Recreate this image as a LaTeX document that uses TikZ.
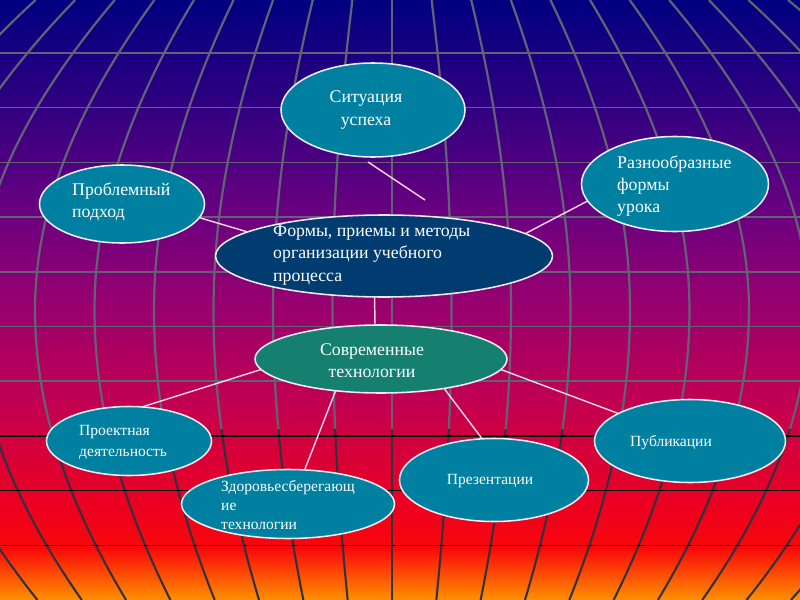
\documentclass[tikz,border=0pt]{standalone}
\usepackage{fontspec}
\setmainfont{Liberation Serif}
\usetikzlibrary{shapes.geometric}
\definecolor{g0}{RGB}{0,0,128}
\definecolor{g1}{RGB}{55,0,128}
\definecolor{g2}{RGB}{105,0,128}
\definecolor{g3}{RGB}{150,0,112}
\definecolor{g4}{RGB}{195,0,80}
\definecolor{g5}{RGB}{238,0,30}
\definecolor{g6}{RGB}{250,8,10}
\definecolor{g7}{RGB}{255,145,0}
\definecolor{tealc}{RGB}{0,128,160}
\definecolor{navyc}{RGB}{0,60,112}
\definecolor{greenc}{RGB}{22,128,112}
\definecolor{rimc}{RGB}{235,235,240}
\definecolor{linkc}{RGB}{248,212,228}
\definecolor{gridc}{RGB}{98,98,118}
\definecolor{gridd}{RGB}{50,50,60}
\tikzset{
  bub/.style={ellipse, draw=rimc, line width=1.4pt, inner sep=0pt, outer sep=0pt, fill=tealc},
  big/.style={text=white, font=\fontsize{16}{20}\selectfont, align=left, inner sep=0pt},
  small/.style={text=white, font=\fontsize{14}{18}\selectfont, align=left, inner sep=0pt},
  link/.style={draw=linkc, line width=1.3pt},
  vgrid/.style={draw=gridc, line width=2pt},
  vgridd/.style={draw=gridd, line width=1.9pt},
  hgrid/.style={draw=gridc, line width=1.3pt},
  hgridd/.style={draw=black, line width=1.3pt}
}
\begin{document}
\begin{tikzpicture}[x=0.9pt,y=-0.9pt]
\useasboundingbox (0,0) rectangle (800,600);
% background gradient
\shade[top color=g0,bottom color=g1] (0,0) rectangle (800,120.5);
\shade[top color=g1,bottom color=g2] (0,120) rectangle (800,210.5);
\shade[top color=g2,bottom color=g3] (0,210) rectangle (800,300.5);
\shade[top color=g3,bottom color=g4] (0,300) rectangle (800,405.5);
\shade[top color=g4,bottom color=g5] (0,405) rectangle (800,510.5);
\shade[top color=g5,bottom color=g6] (0,510) rectangle (800,548.5);
\shade[top color=g6,bottom color=g7] (0,548) rectangle (800,600);
% grid
\begin{scope}
\clip (0,0) rectangle (800,600);
\foreach \k in {-10,...,10}{
  \draw[vgrid] plot[domain=0:430, samples=50, variable=\t] ({392+\k*59.5*cos((\t-310)*(0.15569-0.01139*(\t>310)))}, \t);
  \draw[vgridd] plot[domain=429:600, samples=25, variable=\t] ({392+\k*59.5*cos((\t-310)*0.1443)}, \t);
}
\foreach \j in {0,...,6} \draw[hgrid] (0,{53+54.7*\j}) -- (800,{53+54.7*\j});
\foreach \j in {7,8,9} \draw[hgridd] (0,{53+54.7*\j}) -- (800,{53+54.7*\j});
\end{scope}
% ellipses
\node[bub, minimum width={184*0.9pt}, minimum height={94*0.9pt}] (sit) at (373,110) {};
\node[bub, minimum width={165*0.9pt}, minimum height={78*0.9pt}] (prob) at (122,204) {};
\node[bub, fill=navyc, minimum width={337*0.9pt}, minimum height={82*0.9pt}] (cent) at (384,256) {};
\node[bub, minimum width={187*0.9pt}, minimum height={95*0.9pt}] (raz) at (675,184) {};
\node[bub, fill=greenc, minimum width={252*0.9pt}, minimum height={68*0.9pt}] (sov) at (381,359) {};
\node[bub, minimum width={165*0.9pt}, minimum height={69*0.9pt}] (proj) at (129,441) {};
\node[bub, minimum width={213*0.9pt}, minimum height={69*0.9pt}] (zdor) at (288,504) {};
\node[bub, minimum width={189*0.9pt}, minimum height={83*0.9pt}] (prez) at (494,480) {};
\node[bub, minimum width={191*0.9pt}, minimum height={83*0.9pt}] (pub) at (690,441) {};
% connectors
\coordinate (s1) at (368,162);
\coordinate (s2) at (425,200);
\draw[link] (s1) -- (s2);
\draw[link] (prob.-10) -- (cent.170.4);
\draw[link] (raz.191.3) -- (cent.9.9);
\draw[link] (cent.257.6) -- (sov.100);
\draw[link] (sov.185.1) -- (proj.69);
\draw[link] (sov.215.5) -- (zdor.64);
\draw[link] (sov.335.6) -- (prez.106);
\draw[link] (sov.-5.2) -- (pub.159.5);
% texts
\node[big, align=center] (tsit) at (366,110) {Ситуация\\успеха};
\node[big, anchor=west] (tprob) at (72,202) {Проблемный\\подход};
\node[big, anchor=west, font=\fontsize{16}{20.5}\selectfont] (tcent) at (273,255) {Формы, приемы и методы\\организации учебного\\процесса};
\node[big, anchor=west] (traz) at (617,186) {Разнообразные\\формы\\урока};
\node[big, align=center] (tsov) at (372,361) {Современные\\технологии};
\node[small, anchor=west, font=\fontsize{14}{19}\selectfont] (tproj) at (79,442) {Проектная\\деятельность};
\node[small, anchor=west, font=\fontsize{14}{16.7}\selectfont] (tzdor) at (221,505) {Здоровьесберегающ\\ие\\технологии};
\node[small] (tprez) at (490,481) {Презентации};
\node[small, anchor=west] (tpub) at (630,443) {Публикации};
\end{tikzpicture}
\end{document}
